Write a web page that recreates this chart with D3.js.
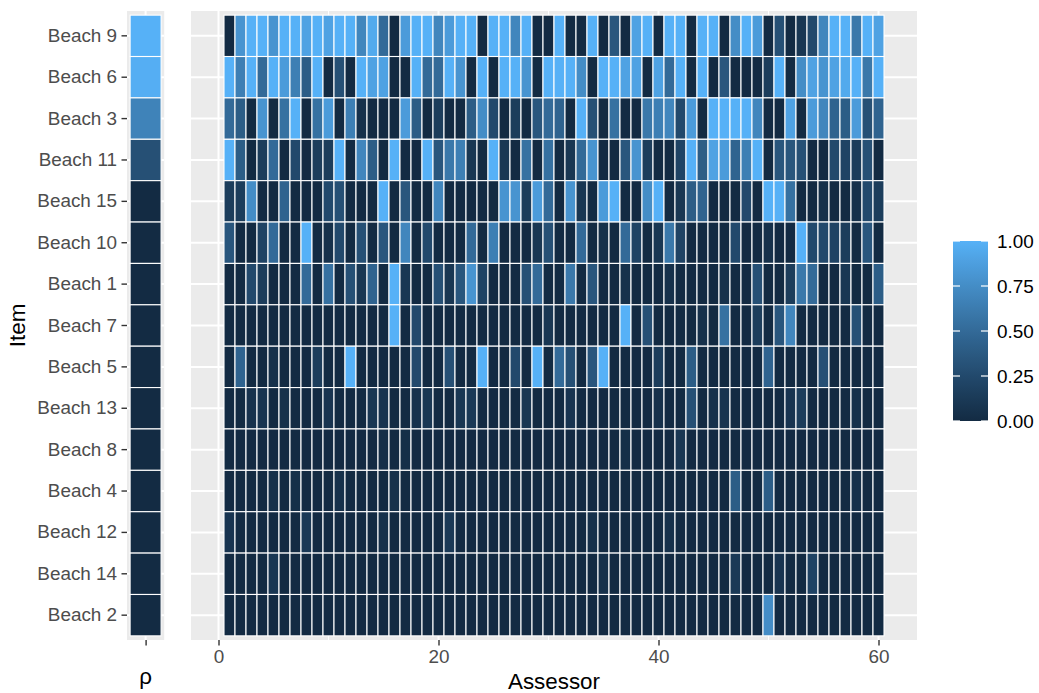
<!DOCTYPE html>
<html>
<head>
<meta charset="utf-8">
<script src="https://cdn.jsdelivr.net/npm/d3@7"></script>
<style>
  body { margin: 0; background: #fff; }
  svg text { font-family: "Liberation Sans", Arial, sans-serif; }
</style>
</head>
<body>
<div id="chart"></div>
<script>
// items, top to bottom
const items = ["Beach 9", "Beach 6", "Beach 3", "Beach 11", "Beach 15", "Beach 10", "Beach 1",
  "Beach 7", "Beach 5", "Beach 13", "Beach 8", "Beach 4", "Beach 12", "Beach 14", "Beach 2"];

// posterior mean of rho, per item
const rhoValues = [1, 0.98, 0.68, 0.3, 0, 0, 0, 0, 0, 0, 0, 0, 0, 0, 0];

// per-assessor probabilities, assessors 1..60
const beach9 = [0, 0.8, 1, 1, 0.8, 1, 1, 0.9, 1, 0.9, 1, 1, 0.7, 0.95, 0.5,
  0, 0.85, 1, 1, 0.7, 0.85, 1, 1, 0, 1, 1, 0.7, 1, 0, 0,
  1, 0, 0, 1, 0, 0.35, 0, 0.9, 1, 0, 1, 1, 0, 1, 1,
  0, 0.75, 1, 0.85, 0, 0.3, 0, 0.1, 0.25, 0.7, 1, 1, 0.6, 1, 0.9];
const beach6 = [1, 0.65, 1, 0.5, 1, 0.85, 0.65, 0.4, 1, 0, 0.3, 0, 1, 0.9, 0.9,
  0, 0, 1, 0.5, 0.5, 1, 0.8, 0, 1, 0, 1, 1, 0.8, 0, 1,
  1, 1, 0.75, 0, 1, 1, 0.9, 0.9, 0, 0.9, 0.5, 1, 0, 1, 0,
  0.35, 0, 0, 0, 0.15, 1, 0, 0.75, 0.9, 0.8, 0.9, 0.95, 1, 0.6, 1];
const beach3 = [0.5, 0.4, 0, 0.8, 0, 0.55, 1, 0, 0.55, 0.85, 0, 0.65, 0.05, 0, 0,
  0, 0.85, 0.4, 0, 0.15, 0, 0, 0.4, 0.75, 0.25, 0, 0.15, 0, 0.35, 0.5,
  0.45, 0, 1, 0.3, 0, 0.55, 0, 0, 0.6, 0.65, 0.7, 0.25, 0.85, 0, 1,
  1, 1, 1, 0.7, 0, 0, 0.9, 0, 0.85, 0.7, 0.45, 0.4, 0.85, 0.3, 0.45];
const beach11 = [1, 0.4, 0, 0.15, 0.5, 0, 0.25, 0, 0.15, 0.15, 1, 0, 0.7, 0.4, 0,
  1, 0, 0, 1, 0.35, 0.6, 0.65, 0.1, 0, 1, 0.1, 0, 0.55, 0, 0.55,
  0, 0.1, 0.5, 0.8, 0, 0, 0.35, 0.8, 0.15, 0, 0, 0.2, 1, 0.4, 0.9,
  0.85, 0.45, 0.65, 1, 0, 0.35, 0.35, 0.3, 0, 0, 0.25, 0.2, 0.15, 0.3, 0];
const beach15 = [0.15, 0.15, 0.75, 0, 0, 0.45, 0, 0, 0, 0.25, 0.3, 0, 0, 0, 1,
  0, 0.35, 0, 0, 0.7, 0, 0, 0, 0, 0, 0.8, 0.8, 0.15, 0.85, 0.5,
  0, 0.8, 0.1, 0, 0.85, 1, 0, 0, 0.75, 1, 0, 0.1, 0.4, 0.45, 0,
  0, 0, 0.25, 0, 1, 1, 0.55, 0, 0, 0.05, 0, 0, 0.05, 0.25, 0.15];
const beach10 = [0.35, 0, 0, 0.2, 0.5, 0, 0, 1, 0, 0.05, 0.25, 0, 0.3, 0, 0.35,
  0, 0.7, 0, 0.25, 0, 0, 0, 0.5, 0, 0.65, 0, 0, 0, 0.1, 0.3,
  0, 0, 0.5, 0, 0.05, 0, 0.5, 0.2, 0, 0.1, 0.6, 0.2, 0, 0, 0,
  0, 0.25, 0, 0, 0.05, 0, 0, 1, 0.25, 0.25, 0.2, 0.15, 0, 0.35, 0];
const beach1 = [0, 0, 0.25, 0.15, 0, 0, 0, 0.5, 0, 0.55, 0, 0.3, 0.1, 0.45, 0,
  1, 0.1, 0, 0, 0.3, 0.1, 0.35, 0.8, 0.2, 0, 0, 0, 0.3, 0.5, 0,
  0, 0.6, 0, 0.35, 0, 0, 0.05, 0, 0, 0, 0.05, 0, 0, 0, 0,
  0.05, 0, 0, 0.3, 0, 0, 0.15, 0.6, 0.5, 0, 0, 0.1, 0, 0, 0.4];
const beach7 = [0, 0, 0, 0, 0, 0, 0, 0, 0, 0, 0, 0, 0, 0, 0,
  1, 0, 0.25, 0, 0, 0, 0, 0, 0, 0, 0, 0, 0, 0, 0.1,
  0, 0, 0, 0, 0, 0, 1, 0, 0.3, 0, 0, 0, 0, 0.05, 0,
  0.55, 0, 0, 0.15, 0, 0.35, 0.7, 0, 0, 0, 0, 0, 0.3, 0, 0];
const beach5 = [0, 0.45, 0, 0, 0.05, 0, 0, 0, 0.15, 0, 0, 1, 0, 0, 0,
  0, 0, 0.25, 0, 0, 0.3, 0, 0, 1, 0, 0, 0.25, 0, 1, 0,
  0.5, 0.3, 0, 0.35, 1, 0, 0, 0, 0, 0.15, 0, 0, 0.4, 0, 0,
  0, 0, 0, 0, 0.45, 0, 0, 0, 0, 0.3, 0, 0, 0, 0, 0];
const beach13 = [0, 0, 0.06, 0.08, 0, 0.05, 0, 0, 0, 0.08, 0, 0, 0, 0.1, 0.08,
  0, 0, 0.06, 0.1, 0, 0, 0.1, 0.12, 0, 0, 0, 0, 0.1, 0, 0,
  0, 0.08, 0, 0, 0, 0, 0, 0, 0, 0.05, 0, 0, 0.3, 0, 0.05,
  0.08, 0, 0, 0, 0, 0, 0.08, 0.15, 0, 0, 0, 0, 0.05, 0, 0];
const beach8 = [0, 0, 0, 0, 0, 0, 0, 0, 0, 0, 0, 0, 0, 0, 0.03,
  0, 0.03, 0, 0, 0, 0, 0, 0, 0, 0, 0, 0, 0, 0, 0,
  0, 0, 0, 0, 0, 0, 0.03, 0, 0, 0, 0, 0.1, 0, 0, 0,
  0, 0, 0, 0, 0, 0, 0, 0, 0, 0, 0, 0, 0, 0, 0];
const beach4 = [0, 0, 0, 0, 0.05, 0, 0.04, 0, 0, 0, 0.05, 0, 0, 0, 0,
  0.05, 0, 0, 0, 0, 0, 0, 0, 0, 0, 0, 0, 0, 0, 0,
  0, 0, 0, 0, 0, 0, 0, 0, 0, 0, 0, 0, 0, 0, 0,
  0, 0.4, 0, 0, 0.4, 0, 0, 0, 0, 0, 0, 0, 0.05, 0, 0];
const beach12 = [0.08, 0, 0, 0, 0, 0, 0, 0.12, 0, 0, 0, 0, 0, 0, 0.05,
  0, 0, 0, 0, 0, 0.12, 0, 0, 0, 0, 0, 0, 0, 0, 0,
  0, 0, 0, 0.05, 0, 0, 0, 0, 0, 0, 0.05, 0, 0, 0, 0,
  0, 0, 0, 0, 0, 0, 0, 0, 0, 0, 0, 0, 0, 0, 0];
const beach14 = [0, 0, 0, 0, 0.1, 0, 0, 0, 0, 0, 0, 0, 0, 0, 0,
  0, 0, 0, 0, 0, 0, 0, 0, 0, 0, 0, 0, 0, 0, 0,
  0, 0, 0, 0, 0.05, 0, 0, 0, 0, 0, 0, 0, 0, 0, 0,
  0, 0.12, 0, 0, 0, 0.08, 0, 0, 0.2, 0, 0, 0, 0, 0, 0];
const beach2 = [0, 0, 0, 0, 0, 0, 0, 0, 0, 0, 0, 0, 0, 0, 0,
  0, 0, 0, 0, 0, 0, 0, 0, 0, 0, 0, 0, 0, 0, 0,
  0, 0, 0, 0, 0, 0, 0, 0, 0, 0, 0, 0, 0, 0, 0,
  0, 0, 0, 0, 0.75, 0, 0, 0, 0, 0, 0, 0, 0, 0, 0];

const xTicks = [0, 20, 40, 60];
const xMinor = [10, 30, 50];
const legendTicks = [0, 0.25, 0.5, 0.75, 1];

const rows = [beach9, beach6, beach3, beach11, beach15, beach10, beach1, beach7,
  beach5, beach13, beach8, beach4, beach12, beach14, beach2];

const cells = [];
rows.forEach((vals, i) => vals.forEach((v, j) => cells.push({ item: items[i], assessor: j + 1, value: v })));

const width = 1039, height = 693;
const panelTop = 11, panelBottom = 640;
const tickFont = "18.9px";

const svg = d3.select("#chart").append("svg")
  .attr("width", width).attr("height", height);

const color = d3.scaleLinear().domain([0, 1]).range(["#132B43", "#56B1F7"]).interpolate(d3.interpolateLab);

const y = d3.scaleBand().domain(items).range([panelTop, panelBottom]).paddingInner(0).paddingOuter(0.1);
const x = d3.scaleLinear().domain([-2.5, 63.5]).range([191, 917]);
const xr = d3.scaleLinear().domain([0.4, 1.6]).range([127, 164.2]);

// rho panel
const gr = svg.append("g");
gr.append("rect").attr("x", xr(0.4)).attr("y", panelTop)
  .attr("width", xr(1.6) - xr(0.4)).attr("height", panelBottom - panelTop).attr("fill", "#EBEBEB");
gr.selectAll("line.h").data(items).join("line")
  .attr("x1", xr(0.4)).attr("x2", xr(1.6))
  .attr("y1", d => y(d) + y.bandwidth() / 2).attr("y2", d => y(d) + y.bandwidth() / 2)
  .attr("stroke", "#fff").attr("stroke-width", 2);
gr.append("line").attr("x1", xr(1)).attr("x2", xr(1)).attr("y1", panelTop).attr("y2", panelBottom)
  .attr("stroke", "#fff").attr("stroke-width", 2);
gr.selectAll("rect.tile").data(items).join("rect").attr("class", "tile")
  .attr("x", xr(0.5)).attr("width", xr(1.5) - xr(0.5))
  .attr("y", d => y(d)).attr("height", y.bandwidth())
  .attr("fill", (d, i) => color(rhoValues[i]))
  .attr("stroke", "#fff").attr("stroke-width", 1.1);

// main panel
const gm = svg.append("g");
gm.append("rect").attr("x", x(-2.5)).attr("y", panelTop)
  .attr("width", x(63.5) - x(-2.5)).attr("height", panelBottom - panelTop).attr("fill", "#EBEBEB");
gm.selectAll("line.minor").data(xMinor).join("line")
  .attr("x1", d => x(d)).attr("x2", d => x(d)).attr("y1", panelTop).attr("y2", panelBottom)
  .attr("stroke", "#fff").attr("stroke-width", 1);
gm.selectAll("line.major").data(xTicks).join("line")
  .attr("x1", d => x(d)).attr("x2", d => x(d)).attr("y1", panelTop).attr("y2", panelBottom)
  .attr("stroke", "#fff").attr("stroke-width", 2);
gm.selectAll("line.h").data(items).join("line")
  .attr("x1", x(-2.5)).attr("x2", x(63.5))
  .attr("y1", d => y(d) + y.bandwidth() / 2).attr("y2", d => y(d) + y.bandwidth() / 2)
  .attr("stroke", "#fff").attr("stroke-width", 2);
gm.selectAll("rect.tile").data(cells).join("rect").attr("class", "tile")
  .attr("x", d => x(d.assessor - 0.5)).attr("width", x(1) - x(0))
  .attr("y", d => y(d.item)).attr("height", y.bandwidth())
  .attr("fill", d => color(d.value))
  .attr("stroke", "#fff").attr("stroke-width", 1.1);

// axes
function styleAxis(g) {
  g.select(".domain").remove();
  g.selectAll(".tick line").attr("stroke", "#333333").attr("stroke-width", 1.4);
  g.selectAll(".tick text").attr("fill", "#4D4D4D")
    .style("font-size", tickFont).style("font-family", '"Liberation Sans", Arial, sans-serif');
}

svg.append("g").attr("transform", `translate(${xr(0.4)},0)`)
  .call(d3.axisLeft(y).tickSize(5.5).tickPadding(4.4))
  .call(styleAxis);

svg.append("g").attr("transform", `translate(0,${panelBottom})`)
  .call(d3.axisBottom(x).tickValues(xTicks).tickSize(5.5).tickPadding(4.4))
  .call(styleAxis);

svg.append("g").attr("transform", `translate(0,${panelBottom})`)
  .call(d3.axisBottom(xr).tickValues([1]).tickFormat("").tickSize(5.5))
  .call(styleAxis);

// titles
svg.append("text").attr("x", (x(-2.5) + x(63.5)) / 2).attr("y", 689)
  .attr("text-anchor", "middle").style("font-size", "22.4px").attr("fill", "#000").text("Assessor");
svg.append("text").attr("x", xr(1)).attr("y", 684)
  .attr("text-anchor", "middle").style("font-size", "22.4px").attr("fill", "#000").text("ρ");
svg.append("text")
  .attr("transform", `translate(25,${(panelTop + panelBottom) / 2}) rotate(-90)`)
  .attr("text-anchor", "middle").style("font-size", "22.4px").attr("fill", "#000").text("Item");

// legend colorbar
const lx = 953, lw = 35, lTop = 241, lBottom = 421;
const ly = d3.scaleLinear().domain([0, 1]).range([lBottom, lTop]);
const grad = svg.append("defs").append("linearGradient").attr("id", "cbar")
  .attr("x1", 0).attr("y1", 1).attr("x2", 0).attr("y2", 0);
grad.selectAll("stop").data(d3.range(0, 1.0001, 0.05)).join("stop")
  .attr("offset", d => d).attr("stop-color", d => color(d));
svg.append("rect").attr("x", lx).attr("y", lTop).attr("width", lw).attr("height", lBottom - lTop)
  .attr("fill", "url(#cbar)");
const lg = svg.append("g");
lg.selectAll("line.l").data(legendTicks).join("line")
  .attr("x1", lx).attr("x2", lx + 7).attr("y1", d => ly(d)).attr("y2", d => ly(d))
  .attr("stroke", "#fff").attr("stroke-width", 1.2);
lg.selectAll("line.r").data(legendTicks).join("line")
  .attr("x1", lx + lw - 7).attr("x2", lx + lw).attr("y1", d => ly(d)).attr("y2", d => ly(d))
  .attr("stroke", "#fff").attr("stroke-width", 1.2);
lg.selectAll("text").data(legendTicks).join("text")
  .attr("x", lx + lw + 9).attr("y", d => ly(d)).attr("dy", "0.35em")
  .style("font-size", tickFont).attr("fill", "#000")
  .text(d => d3.format(".2f")(d));
</script>
</body>
</html>
